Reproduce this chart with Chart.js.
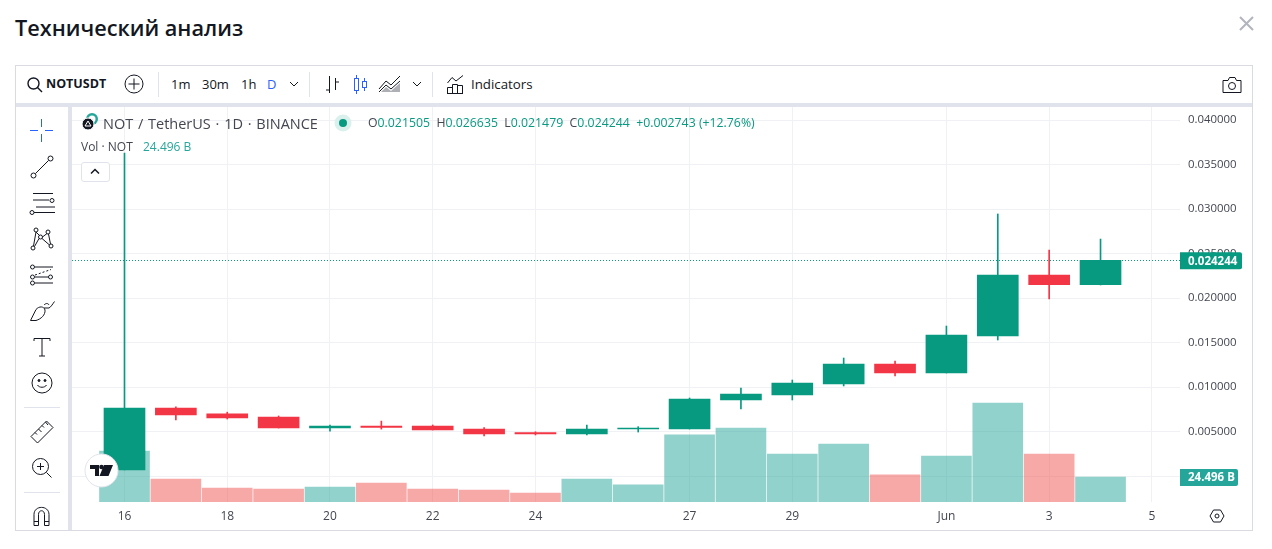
<!DOCTYPE html>
<html lang="ru">
<head>
<meta charset="utf-8">
<title>Технический анализ</title>
<script src="https://cdn.jsdelivr.net/npm/chart.js@4/dist/chart.umd.min.js"></script>
<style>
  html, body { margin: 0; padding: 0; background: #fff; width: 1272px; height: 549px; overflow: hidden; }
  body { font-family: 'Open Sans', sans-serif; color: #131722; position: relative; }
  .abs, svg { position: absolute; }
  .t { position: absolute; white-space: nowrap; line-height: 1; }
  svg { fill: none; stroke: #131722; stroke-width: 1; }
  #frame { left: 15px; top: 65px; width: 1236px; height: 464px; border: 1px solid #D9DBE0; }
  #bandTop { left: 16px; top: 103px; width: 1236px; height: 4px; background: #E0E3EB; }
  #bandLeft { left: 68px; top: 107px; width: 4px; height: 423px; background: #E0E3EB; }
  #chart { position: absolute; left: 72px; top: 107px; }
  .sep { position: absolute; width: 1px; top: 72px; height: 25px; background: #E0E3EB; }
  .hsep { position: absolute; left: 24px; width: 36px; height: 1px; background: #E0E3EB; }
  .tb { font-size: 13px; top: 78px; }
  .up { color: #089981; }
</style>
</head>
<body>
<div class="t" style="left:15px;top:17px;font-size:21.7px;font-weight:600">Технический анализ</div>
<svg style="left:1238px;top:15px" width="17" height="17" stroke-width="2" viewBox="0 0 17 17"><path d="M2 2L15 15M15 2L2 15" style="stroke:#B2B5BE;stroke-width:2"/></svg>

<div class="abs" id="frame"></div>
<div class="abs" id="bandTop"></div>
<div class="abs" id="bandLeft"></div>
<canvas id="chart" width="1180" height="423"></canvas>

<!-- верхняя панель -->
<svg style="left:26px;top:76px" width="18" height="18"><circle cx="7.5" cy="7.5" r="5.5" stroke-width="1.4"/><path d="M11.5 11.5L16 16" stroke-width="1.4"/></svg>
<div class="t tb" style="left:46px;font-weight:700;font-size:12.5px">NOTUSDT</div>
<svg style="left:124px;top:74px" width="20" height="20"><circle cx="10" cy="10" r="9"/><path d="M10 4.5V15.5M4.5 10H15.5"/></svg>
<div class="sep" style="left:158px"></div>
<div class="t tb" style="left:171px">1m</div>
<div class="t tb" style="left:202px">30m</div>
<div class="t tb" style="left:241px">1h</div>
<div class="t tb" style="left:267px;color:#2962FF">D</div>
<svg style="left:289px;top:81px" width="10" height="6"><path d="M1 1L5 5L9 1"/></svg>
<div class="sep" style="left:309px"></div>
<svg style="left:324px;top:74px" width="17" height="21"><path d="M5.5 2V19M2 16H5.5M11.5 4V16M11.5 8H15"/></svg>
<svg style="left:352px;top:74px" width="17" height="21"><g style="stroke:#2962FF"><rect x="2.5" y="4.5" width="4" height="12"/><path d="M4.5 1V4M4.5 17V20"/><rect x="10.5" y="7.5" width="4" height="6"/><path d="M12.5 4V7M12.5 14V17"/></g></svg>
<svg style="left:378px;top:75px" width="24" height="18"><path d="M1 14L8 6L13 10L22 1M1 17L8 10L13 14L22 6"/><path d="M3 17L8 12L13 16L22 8V17Z" style="fill:#787B86;stroke:none;opacity:.6"/></svg>
<svg style="left:412px;top:81px" width="10" height="6"><path d="M1 1L5 5L9 1"/></svg>
<div class="sep" style="left:432px"></div>
<svg style="left:446px;top:74px" width="20" height="20"><path d="M1.5 19.5V13.5H6.5V19.5M6.5 19.5V10.5H11.5V19.5M11.5 19.5V11.5H16.5V19.5M1 19.5H17M1.5 9L6 3.5L10 7L17 1.5"/></svg>
<div class="t tb" style="left:471px;font-size:13.3px">Indicators</div>
<svg style="left:1221px;top:76px" width="22" height="18"><path d="M2 4.5H7L8.5 1.5H14L15.5 4.5H20V16.5H2Z"/><circle cx="11" cy="10" r="3.5"/></svg>

<!-- левая панель -->
<svg style="left:29px;top:118px" width="25" height="25"><path d="M12.5 1V9M12.5 16V24M1 12.5H9M16 12.5H24" style="stroke:#2962FF"/></svg>
<svg style="left:30px;top:155px" width="24" height="24"><circle cx="3.5" cy="20.5" r="2.5"/><circle cx="20.5" cy="3.5" r="2.5"/><path d="M5.5 18.5L18.5 5.5"/></svg>
<svg style="left:29px;top:191px" width="26" height="24" stroke-width="1.2"><path d="M4 3H24M4 9.5H20M7 16.5H26M2 22H26" transform="translate(0,-0.5)"/><circle cx="23" cy="9.5" r="2" fill="#fff"/><circle cx="3" cy="21.5" r="2" fill="#fff"/></svg>
<svg style="left:30px;top:227px" width="24" height="24"><circle cx="6" cy="3" r="2"/><circle cx="18" cy="5" r="2"/><circle cx="3" cy="21" r="2"/><circle cx="21" cy="19" r="2"/><circle cx="10.500" cy="10" r="2"/><path d="M6 5L9.500 8.500M6 5L3.500 19M12.500 10L17 6.500M18.500 7L20.500 17M4.500 19.500L9 11.500M12 11.500L19.500 18"/></svg>
<svg style="left:29px;top:264px" width="26" height="24"><circle cx="3.500" cy="3" r="2"/><circle cx="3.500" cy="13" r="2"/><circle cx="3.500" cy="19" r="2"/><circle cx="21.500" cy="13" r="2"/><path d="M6 3H24M6 13H19.500M6 19H24"/><path d="M6 11L22 5.500" stroke-dasharray="2 2"/></svg>
<svg style="left:29px;top:300px" width="26" height="22"><path d="M1.500 20.500L7 9.500C10 6 15 6 16 10C16.500 15 12 19 7 20.500ZM15 8L20 8C22 7 24 3.500 25.500 1.500M15 5C17 3 19 3 20 5" stroke-width="1"/></svg>
<svg style="left:33px;top:337px" width="18" height="20"><path d="M1 4V1.500H17V4M9 1.500V19M6 19H12"/></svg>
<svg style="left:31px;top:372px" width="22" height="22"><circle cx="11" cy="11" r="10"/><circle cx="8" cy="8.500" r="1" fill="#131722"/><circle cx="14" cy="8.500" r="1" fill="#131722"/><path d="M6.500 13C8 16 14 16 15.500 13"/></svg>
<div class="hsep" style="top:407px"></div>
<svg style="left:30px;top:420px" width="24" height="24"><path d="M1 16.500L16.500 1L23 7.500L7.500 23Z"/><path d="M5 12.500L7 14.500M8.500 9L11.500 12M12 5.500L14 7.500M15.500 2L18 5"/></svg>
<svg style="left:31px;top:457px" width="22" height="22"><circle cx="9.500" cy="9.500" r="8"/><path d="M15.500 15.500L20.500 20.500M9.500 6V13M6 9.500H13"/></svg>
<div class="hsep" style="top:492px"></div>
<svg style="left:33px;top:506px" width="17" height="21"><path d="M1 19.500V8.500C1 -1 16 -1 16 8.500V19.500H11.500V8.500C11.500 3.500 5.500 3.500 5.500 8.500V19.500ZM1 15.500H5.500M11.500 15.500H16"/></svg>

<!-- легенда -->
<svg style="left:80px;top:112px" width="22" height="22"><circle cx="12" cy="7" r="6" style="stroke:none;fill:#26A69A"/><circle cx="12" cy="7" r="3.500" style="stroke:none;fill:#fff"/><circle cx="8" cy="12" r="6" style="stroke:#fff;fill:#131722"/><path d="M8 9L11 14H5Z" style="stroke:#fff"/></svg>
<div class="t" style="left:103px;top:117px;font-size:14.5px;word-spacing:1px;color:#434651">NOT / TetherUS · 1D · BINANCE</div>
<svg style="left:334px;top:114px" width="18" height="18"><circle cx="9" cy="9" r="8.500" style="stroke:none;fill:#D9F0EC"/><circle cx="9" cy="9" r="4" style="stroke:none;fill:#089981"/></svg>
<div class="t" id="ohlc" style="left:368px;top:117px;font-size:12.3px;color:#434651"></div>
<div class="t" style="left:81px;top:141px;font-size:12px;color:#434651">Vol · NOT</div>
<div class="t" id="volText" style="left:143px;top:141px;font-size:12px;color:#26A69A"></div>
<div class="abs" style="left:81px;top:162px;width:27px;height:18px;border:1px solid #E0E3EB;border-radius:3px;background:#fff"></div>
<svg style="left:90px;top:168px" width="10" height="7"><path d="M1 5.500L5 1.500L9 5.500" stroke-width="1.500"/></svg>

<!-- логотип -->
<svg style="left:84px;top:453px" width="35" height="35"><circle cx="17.500" cy="17.500" r="16.500" style="fill:#fff;stroke:#E0E3EB"/><path d="M6 12H15V23H11V16H6ZM15.500 23L20 12H29L24.500 23Z" style="fill:#131722;stroke:none"/><circle cx="17.500" cy="14" r="2.300" style="fill:#131722;stroke:none"/></svg>
<!-- настройки оси -->
<svg style="left:1209px;top:509px" width="16" height="14"><path d="M1 7L4.500 1H11.500L15 7L11.500 13H4.500Z"/><circle cx="8" cy="7" r="2"/></svg>

<script>
// ── Данные: дневные свечи NOT/USDT, с 16 мая по 4 июня ────────────
const opens  = [0.00071, 0.00767, 0.00700, 0.00666, 0.00542, 0.00565, 0.00565, 0.00531, 0.00490, 0.00475,
                0.00531, 0.00531, 0.00857, 0.00913, 0.01036, 0.01261, 0.01160, 0.01575, 0.02260, 0.021505];
const highs  = [0.03630, 0.00780, 0.00720, 0.00677, 0.00576, 0.00620, 0.00576, 0.00546, 0.00500, 0.00576,
                0.00557, 0.00879, 0.00991, 0.01081, 0.01328, 0.01294, 0.01687, 0.02945, 0.02540, 0.026635];
const lows   = [0.00071, 0.00633, 0.00643, 0.00542, 0.00508, 0.00530, 0.00520, 0.00452, 0.00464, 0.00464,
                0.00497, 0.00531, 0.00756, 0.00857, 0.01014, 0.01126, 0.01160, 0.01530, 0.01990, 0.021479];
const closes = [0.00767, 0.00688, 0.00655, 0.00542, 0.00565, 0.00550, 0.00520, 0.00475, 0.00475, 0.00531,
                0.00542, 0.00868, 0.00924, 0.01047, 0.01261, 0.01160, 0.01586, 0.02260, 0.021501, 0.024244];
// объём, млрд NOT
const volumes = [50, 22.5, 13.7, 12.7, 14.7, 18.6, 12.7, 11.8, 8.8, 22.5, 16.7, 65.7, 72.5, 47, 56.8, 26.5, 45, 97, 47, 24.496];

const priceTicks = [0, 0.005, 0.01, 0.015, 0.02, 0.025, 0.03, 0.035, 0.04];
const dayTickIdx = [0, 2, 4, 6, 8, 11, 13, 16, 18, 20];
const dayTickLabels = ['16', '18', '20', '22', '24', '27', '29', 'Jun', '3', '5'];

// ── Цвета ─────────────────────────────────────────────────────────
const GREEN = '#089981';
const RED   = '#F23645';
const VOL_GREEN = 'rgba(38,166,154,0.5)';
const VOL_RED   = 'rgba(239,83,80,0.5)';
const GRID  = '#F0F1F4';
const FONT  = "'Open Sans', sans-serif";

const isUp = i => closes[i] >= opens[i];
const last = opens.length - 1;

// ── Текст легенды ─────────────────────────────────────────────────
const fmt = v => v.toFixed(6);
const change = closes[last] - closes[last - 1];
const changePct = change / closes[last - 1] * 100;
document.getElementById('ohlc').innerHTML =
  `O<span class="up">${fmt(opens[last])}</span>&nbsp; H<span class="up">${fmt(highs[last])}</span>&nbsp; ` +
  `L<span class="up">${fmt(lows[last])}</span>&nbsp; C<span class="up">${fmt(closes[last])}</span>&nbsp; ` +
  `<span class="up">+${fmt(change)} (+${changePct.toFixed(2)}%)</span>`;
document.getElementById('volText').textContent = volumes[last].toFixed(3) + ' B';

// ── Пунктир последней цены и плашки на оси ────────────────────────
const lastPricePlugin = {
  id: 'lastPrice',
  beforeDatasetsDraw(chart) {
    const { ctx, chartArea, scales } = chart;
    const y = Math.round(scales.y.getPixelForValue(closes[last])) + 0.5;
    ctx.save();
    ctx.strokeStyle = GREEN;
    ctx.lineWidth = 1;
    ctx.setLineDash([1, 2]);
    ctx.beginPath();
    ctx.moveTo(chartArea.left, y);
    ctx.lineTo(chartArea.right, y);
    ctx.stroke();
    ctx.restore();
  },
  afterDraw(chart) {
    const { ctx, chartArea, scales } = chart;
    const tag = (yc, w, color, text) => {
      ctx.fillStyle = color;
      ctx.beginPath();
      ctx.roundRect(chartArea.right, yc - 8.5, w, 17, [0, 2, 2, 0]);
      ctx.fill();
      ctx.fillStyle = '#fff';
      ctx.font = `bold 11.5px ${FONT}`;
      ctx.textAlign = 'left';
      ctx.textBaseline = 'middle';
      ctx.fillText(text, chartArea.right + 8, yc + 0.5);
    };
    tag(scales.y.getPixelForValue(closes[last]) + 0.5, 62, GREEN, fmt(closes[last]));
    tag(scales.vol.getPixelForValue(volumes[last]) + 0.5, 58, '#26A69A', volumes[last].toFixed(3) + ' B');
  },
};

// убираем внутренние отступы шкал, чтобы область графика была точной
function noPadding(scale) {
  scale.paddingLeft = scale.paddingRight = scale.paddingTop = scale.paddingBottom = 0;
}

// ── Наборы данных ─────────────────────────────────────────────────
const xs = opens.map((_, i) => i);

new Chart(document.getElementById('chart'), {
  type: 'bar',
  data: {
    datasets: [
      {
        label: 'Объём',
        yAxisID: 'vol',
        order: 3,
        grouped: false,
        barThickness: 50,
        data: xs.map(i => ({ x: i, y: volumes[i] })),
        backgroundColor: xs.map(i => (isUp(i) ? VOL_GREEN : VOL_RED)),
      },
      {
        label: 'Тени',
        yAxisID: 'y',
        order: 2,
        grouped: false,
        barThickness: 1,
        data: xs.map(i => ({ x: i, y: [lows[i], highs[i]] })),
        backgroundColor: xs.map(i => (isUp(i) ? GREEN : RED)),
      },
      {
        label: 'Тела',
        yAxisID: 'y',
        order: 1,
        grouped: false,
        barThickness: 41,
        data: xs.map(i => ({ x: i, y: [opens[i], closes[i]] })),
        backgroundColor: xs.map(i => (isUp(i) ? GREEN : RED)),
      },
    ],
  },
  options: {
    responsive: false,
    animation: false,
    devicePixelRatio: 1,
    layout: { padding: 0 },
    plugins: { legend: { display: false }, tooltip: { enabled: false } },
    scales: {
      x: {
        type: 'linear',
        offset: false,
        min: -1.022,
        max: 20.547,
        grid: { color: GRID, drawTicks: false, offset: false },
        border: { display: false },
        afterFit: scale => { scale.height = 28; noPadding(scale); },
        afterBuildTicks: axis => { axis.ticks = dayTickIdx.map(v => ({ value: v })); },
        ticks: {
          autoSkip: false,
          maxRotation: 0,
          padding: 7,
          color: '#434651',
          font: { family: FONT, size: 12 },
          callback: v => dayTickLabels[dayTickIdx.indexOf(v)],
        },
      },
      y: {
        position: 'right',
        min: -0.002885,
        max: 0.04146,
        grid: { color: GRID, drawTicks: false },
        border: { display: false },
        afterFit: scale => { scale.width = 72; noPadding(scale); },
        afterBuildTicks: axis => { axis.ticks = priceTicks.map(v => ({ value: v })); },
        ticks: {
          padding: 8,
          crossAlign: 'near',
          color: '#434651',
          font: { family: FONT, size: 11.4 },
          callback: v => v.toFixed(6),
        },
      },
      vol: {
        display: false,
        min: 0,
        max: 387,
      },
    },
  },
  plugins: [lastPricePlugin],
});
</script>
</body>
</html>
